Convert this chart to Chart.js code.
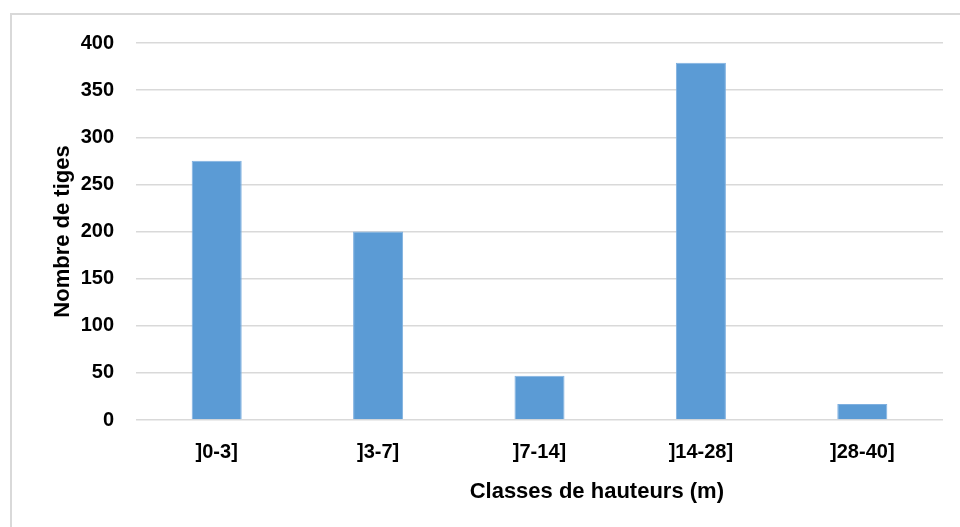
<!DOCTYPE html>
<html>
<head>
<meta charset="utf-8">
<script src="https://cdn.jsdelivr.net/npm/chart.js@4.4.0/dist/chart.umd.min.js"></script>
<style>
  html, body { margin: 0; padding: 0; background: #fff; overflow: hidden; }
  #cadre {
    position: absolute; left: 10px; top: 13px;
    width: 1000px; height: 600px;
    border: 2px solid #d9d9d9; box-sizing: border-box;
  }
  #zone { position: absolute; left: 0; top: 0; width: 960px; height: 527px; }
</style>
</head>
<body>
<div id="cadre"></div>
<div id="zone"><canvas id="graphique"></canvas></div>
<script>
// Données
const classes = ["]0-3]", "]3-7]", "]7-14]", "]14-28]", "]28-40]"];
const nombreTiges = [275, 200, 47, 379, 17];
const graduations = [0, 50, 100, 150, 200, 250, 300, 350, 400];
const titreX = "Classes de hauteurs (m)";

const police = "'Liberation Sans', Arial, sans-serif";

// Titre de l'axe X, un peu décalé vers la droite comme dans l'original
const titreAxeX = {
    id: "titreAxeX",
    afterDraw(chart) {
        const { ctx, chartArea } = chart;
        ctx.save();
        ctx.font = "bold 22px " + police;
        ctx.fillStyle = "#000";
        ctx.textAlign = "center";
        ctx.textBaseline = "middle";
        const x = chartArea.left + (chartArea.right - chartArea.left) * 0.571;
        ctx.fillText(titreX, x, chartArea.bottom + 72);
        ctx.restore();
    },
};

const ctx = document.getElementById("graphique").getContext("2d");

new Chart(ctx, {
    type: "bar",
    data: {
        labels: classes,
        datasets: [
            {
                label: "Nombre de tiges",
                data: nombreTiges,
                backgroundColor: "#5b9bd5",
                borderColor: "#7fb0e0",
                borderWidth: 1,
                categoryPercentage: 1,
                barPercentage: 0.31,
            },
        ],
    },
    options: {
        responsive: true,
        maintainAspectRatio: false,
        animation: false,
        layout: { padding: { top: 43, right: 17, left: 40, bottom: 0 } },
        plugins: {
            legend: { display: false },
            tooltip: { enabled: false },
        },
        scales: {
            x: {
                grid: { display: false, drawTicks: false },
                border: { display: false },
                ticks: {
                    color: "#000",
                    padding: 20,
                    maxRotation: 0,
                    font: { family: police, size: 20, weight: "bold" },
                },
                afterFit: (axe) => { axe.height = 107; },
            },
            y: {
                min: 0,
                max: 400,
                afterBuildTicks: (axe) => { axe.ticks = graduations.map((v) => ({ value: v })); },
                grid: { color: "#d9d9d9", lineWidth: 1.5, drawTicks: false },
                border: { display: false },
                ticks: {
                    color: "#000",
                    padding: 22,
                    font: { family: police, size: 20, weight: "bold" },
                },
                title: {
                    display: true,
                    text: "Nombre de tiges",
                    color: "#000",
                    padding: { top: 10, bottom: 0 },
                    font: { family: police, size: 22, weight: "bold" },
                },
                afterFit: (axe) => { axe.width = 96; },
            },
        },
    },
    plugins: [titreAxeX],
});
</script>
</body>
</html>
